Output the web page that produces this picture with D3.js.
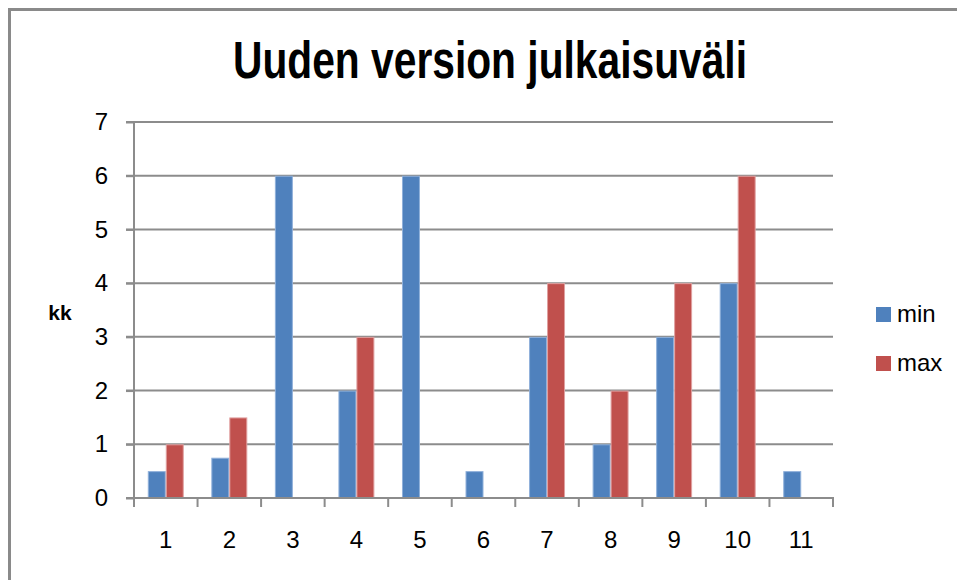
<!DOCTYPE html>
<html>
<head>
<meta charset="utf-8">
<script src="https://cdn.jsdelivr.net/npm/d3@7"></script>
<style>
  body { margin: 0; background: #fff; }
  svg { display: block; }
  text { font-family: "Liberation Sans", Arial, sans-serif; fill: #000; }
</style>
</head>
<body>
<script>
// données
const categories = ["1", "2", "3", "4", "5", "6", "7", "8", "9", "10", "11"];
const series = ["min", "max"];
const minValues = [0.5, 0.75, 6, 2, 6, 0.5, 3, 1, 3, 4, 0.5];
const maxValues = [1, 1.5, null, 3, null, null, 4, 2, 4, 6, null];
const yTicks = [0, 1, 2, 3, 4, 5, 6, 7];
const colors = { min: "#4F81BD", max: "#C0504D" };
const edges = { min: "#8FB0DA", max: "#E0A0A0" };

const table = categories.map((c, i) => ({ cat: c, min: minValues[i], max: maxValues[i] }));

// canevas
const svg = d3.select("body").append("svg")
  .attr("width", 957)
  .attr("height", 580);

// cadre
svg.append("rect")
  .attr("x", 9.5).attr("y", 9.5)
  .attr("width", 1000).attr("height", 1000)
  .attr("fill", "none")
  .attr("stroke", "#8a8a8a")
  .attr("stroke-width", 3);

// échelles
const plotLeft = 134, plotRight = 833, plotTop = 122, plotBottom = 498;
const x0 = d3.scaleBand().domain(categories).range([plotLeft, plotRight]).padding(0);
const step = x0.bandwidth();
const x1 = d3.scaleBand().domain(series).range([step * 0.217, step * 0.783]).padding(0);
const y = d3.scaleLinear().domain([0, 7]).range([plotBottom, plotTop]);

// titre
svg.append("text")
  .attr("x", 490).attr("y", 78)
  .attr("text-anchor", "middle")
  .attr("textLength", 514)
  .attr("lengthAdjust", "spacingAndGlyphs")
  .style("font-family", "'Liberation Sans Narrow', 'Liberation Sans', sans-serif")
  .style("font-weight", "bold")
  .style("font-size", "51px")
  .text("Uuden version julkaisuväli");

// grille
svg.append("g").selectAll("line")
  .data(yTicks.filter(d => d > 0))
  .enter().append("line")
  .attr("x1", plotLeft - 8).attr("x2", plotRight)
  .attr("y1", d => y(d)).attr("y2", d => y(d))
  .attr("stroke", "#8c8c8c")
  .attr("stroke-width", 2);

// axe y
const yAxis = svg.append("g")
  .attr("transform", `translate(${plotLeft},0)`)
  .call(d3.axisLeft(y).tickValues(yTicks).tickSize(8).tickPadding(18).tickFormat(d3.format("d")));
yAxis.select(".domain").attr("stroke", "#8c8c8c").attr("stroke-width", 2).attr("d", `M0,${plotBottom}V${plotTop}`);
yAxis.selectAll(".tick line").attr("stroke", "#8c8c8c").attr("stroke-width", 2);
yAxis.selectAll(".tick text")
  .style("font-size", "24px")
  .style("font-family", "'Liberation Sans', sans-serif")
  .attr("fill", "#000");

// barres
const groups = svg.append("g").selectAll("g")
  .data(table)
  .enter().append("g")
  .attr("transform", d => `translate(${x0(d.cat)},0)`);

groups.selectAll("rect")
  .data(d => series.map(s => ({ s, v: d[s] })).filter(e => e.v != null))
  .enter().append("rect")
  .attr("x", d => x1(d.s) + 0.5)
  .attr("y", d => y(d.v) + 0.5)
  .attr("width", x1.bandwidth() - 1)
  .attr("height", d => plotBottom - y(d.v) - 0.5)
  .attr("fill", d => colors[d.s])
  .attr("stroke", d => edges[d.s])
  .attr("stroke-width", 1);

// axe x
const xAxis = svg.append("g");
xAxis.append("line")
  .attr("x1", plotLeft - 8).attr("x2", plotRight + 1)
  .attr("y1", plotBottom).attr("y2", plotBottom)
  .attr("stroke", "#8c8c8c").attr("stroke-width", 2);
xAxis.selectAll(".xt")
  .data(categories.concat(["end"]))
  .enter().append("line")
  .attr("class", "xt")
  .attr("x1", d => d === "end" ? plotRight : x0(d))
  .attr("x2", d => d === "end" ? plotRight : x0(d))
  .attr("y1", plotBottom).attr("y2", plotBottom + 9)
  .attr("stroke", "#8c8c8c").attr("stroke-width", 2);
xAxis.selectAll(".xl")
  .data(categories)
  .enter().append("text")
  .attr("class", "xl")
  .attr("x", d => x0(d) + step / 2)
  .attr("y", 548)
  .attr("text-anchor", "middle")
  .style("font-size", "24px")
  .text(d => d);

// titre axe y
svg.append("text")
  .attr("x", 60).attr("y", 320)
  .attr("text-anchor", "middle")
  .style("font-weight", "bold")
  .style("font-size", "21px")
  .text("kk");

// légende
const legend = svg.append("g").selectAll("g")
  .data(series)
  .enter().append("g")
  .attr("transform", (d, i) => `translate(876,${307 + i * 49})`);
legend.append("rect")
  .attr("width", 15).attr("height", 15)
  .attr("fill", d => colors[d]);
legend.append("text")
  .attr("x", 21).attr("y", 15)
  .style("font-size", "24px")
  .text(d => d);
</script>
</body>
</html>
